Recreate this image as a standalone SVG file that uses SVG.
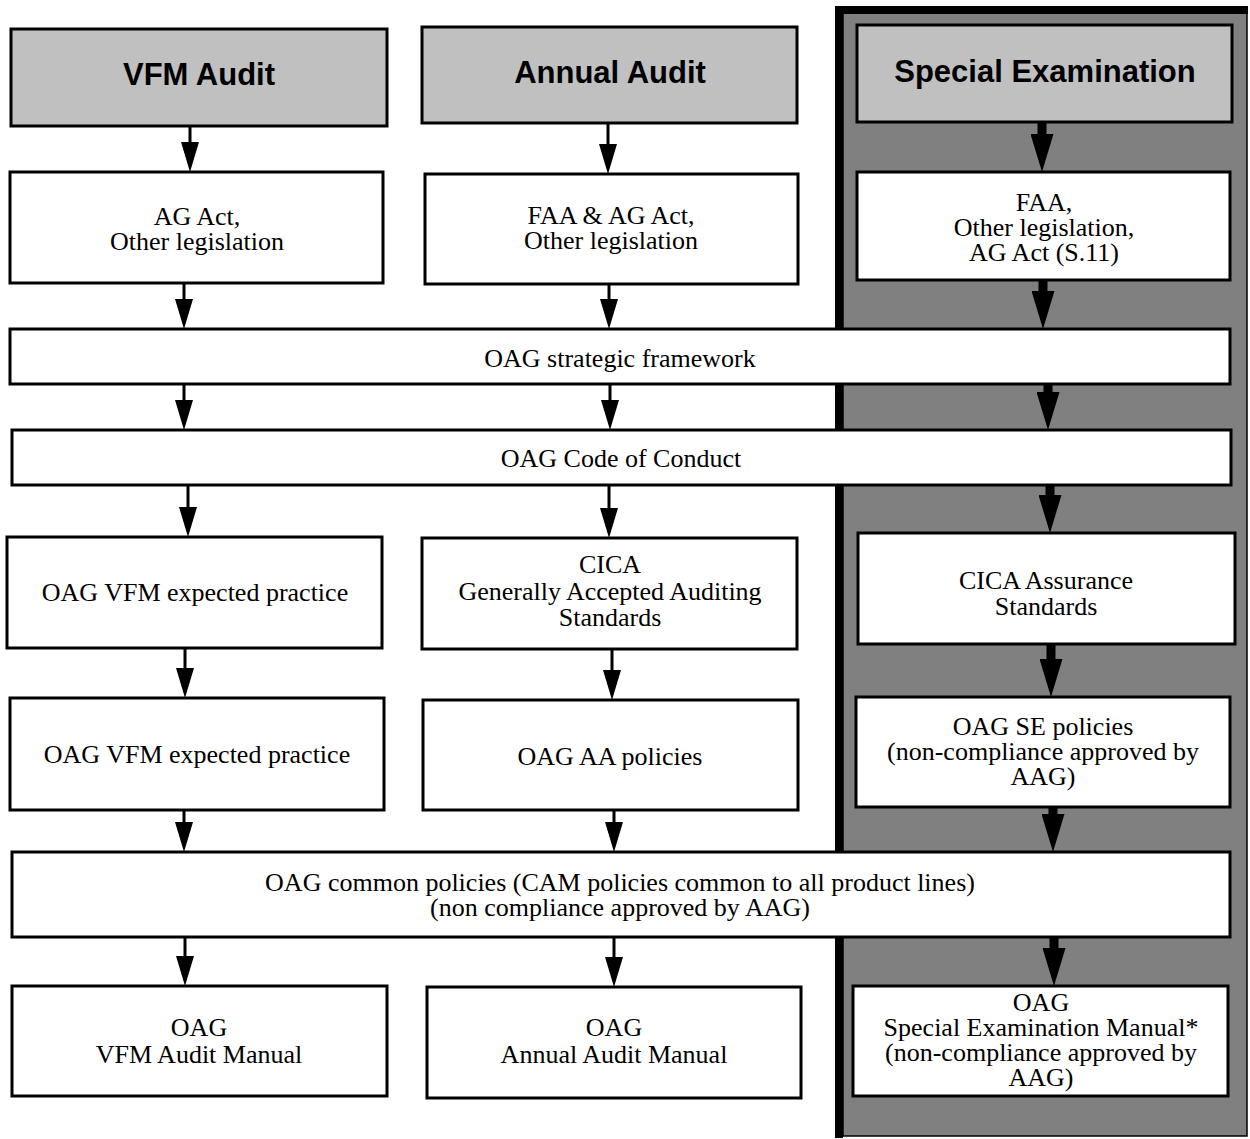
<svg xmlns="http://www.w3.org/2000/svg" width="1250" height="1139" viewBox="0 0 1250 1139">
<defs>
<style>
.box{fill:#fff;stroke:#000;stroke-width:3}
.hdr{fill:#c0c0c0;stroke:#000;stroke-width:3}
.t{font-family:"Liberation Serif","Times New Roman",serif;font-size:26px;fill:#000;text-anchor:middle}
.h{font-family:"Liberation Sans",Arial,sans-serif;font-size:31px;font-weight:bold;fill:#000;text-anchor:middle}
.thin{stroke:#000;stroke-width:3;fill:none;marker-end:url(#ah)}
.thick{stroke:#000;stroke-width:9;fill:none;marker-end:url(#ahb)}
</style>
<marker id="ah" viewBox="0 0 30 18" refX="2" refY="9" markerWidth="30" markerHeight="18" markerUnits="userSpaceOnUse" orient="auto">
<path d="M0,0 L30,9 L0,18 z" fill="#000"/>
</marker>
<marker id="ahb" viewBox="0 0 38 23" refX="2" refY="11.5" markerWidth="38" markerHeight="23" markerUnits="userSpaceOnUse" orient="auto">
<path d="M0,0 L38,11.5 L0,23 z" fill="#000"/>
</marker>
</defs>
<rect width="1250" height="1139" fill="#fff"/>
<g id="panel">
<rect x="843" y="13" width="404" height="1123" fill="#808080" stroke="#000" stroke-width="1.5"/>
<rect x="835" y="6" width="8" height="1132" fill="#000"/>
<rect x="835" y="6" width="413" height="8" fill="#000"/>
</g>
<g id="connectors">
<line class="thin" x1="190" y1="126" x2="190" y2="144"/>
<line class="thin" x1="184" y1="283" x2="184" y2="301"/>
<line class="thin" x1="184" y1="384" x2="184" y2="402"/>
<line class="thin" x1="188" y1="485" x2="188" y2="509"/>
<line class="thin" x1="185" y1="648" x2="185" y2="670"/>
<line class="thin" x1="184" y1="810" x2="184" y2="824"/>
<line class="thin" x1="185" y1="937" x2="185" y2="958"/>
<line class="thin" x1="608" y1="123" x2="608" y2="146"/>
<line class="thin" x1="609" y1="284" x2="609" y2="301"/>
<line class="thin" x1="610" y1="384" x2="610" y2="402"/>
<line class="thin" x1="609" y1="485" x2="609" y2="510"/>
<line class="thin" x1="612" y1="649" x2="612" y2="672"/>
<line class="thin" x1="614" y1="810" x2="614" y2="824"/>
<line class="thin" x1="614" y1="937" x2="614" y2="959"/>
<line class="thick" x1="1042" y1="122" x2="1042" y2="136"/>
<line class="thick" x1="1043" y1="280" x2="1043" y2="293"/>
<line class="thick" x1="1048" y1="384" x2="1048" y2="394"/>
<line class="thick" x1="1050" y1="485" x2="1050" y2="497"/>
<line class="thick" x1="1051" y1="644" x2="1051" y2="661"/>
<line class="thick" x1="1053" y1="807" x2="1053" y2="816"/>
<line class="thick" x1="1054" y1="937" x2="1054" y2="950"/>
</g>
<g id="vfm-header"><rect class="hdr" x="11" y="29" width="376" height="97"/><text class="h" x="199" y="85">VFM Audit</text></g>
<g id="annual-header"><rect class="hdr" x="422" y="27" width="375" height="96"/><text class="h" x="610" y="83">Annual Audit</text></g>
<g id="special-header"><rect class="hdr" x="857" y="25" width="375" height="97"/><text class="h" x="1045" y="82">Special Examination</text></g>
<g id="vfm-legislation"><rect class="box" x="10" y="172" width="373" height="111"/><text class="t" x="197" y="225">AG Act,</text><text class="t" x="197" y="250">Other legislation</text></g>
<g id="annual-legislation"><rect class="box" x="425" y="174" width="373" height="110"/><text class="t" x="611" y="224">FAA &amp; AG Act,</text><text class="t" x="611" y="249">Other legislation</text></g>
<g id="special-legislation"><rect class="box" x="857" y="172" width="373" height="108"/><text class="t" x="1044" y="211">FAA,</text><text class="t" x="1044" y="236">Other legislation,</text><text class="t" x="1044" y="261">AG Act (S.11)</text></g>
<g id="strategic-framework"><rect class="box" x="10" y="329" width="1220" height="55"/><text class="t" x="620" y="367">OAG strategic framework</text></g>
<g id="code-of-conduct"><rect class="box" x="12" y="430" width="1219" height="55"/><text class="t" x="621" y="467">OAG Code of Conduct</text></g>
<g id="vfm-practice-1"><rect class="box" x="7" y="537" width="375" height="111"/><text class="t" x="195" y="601">OAG VFM expected practice</text></g>
<g id="cica-gaas"><rect class="box" x="422" y="538" width="375" height="111"/><text class="t" x="610" y="573">CICA</text><text class="t" x="610" y="600">Generally Accepted Auditing</text><text class="t" x="610" y="626">Standards</text></g>
<g id="cica-assurance"><rect class="box" x="858" y="533" width="377" height="111"/><text class="t" x="1046" y="589">CICA Assurance</text><text class="t" x="1046" y="615">Standards</text></g>
<g id="vfm-practice-2"><rect class="box" x="10" y="698" width="374" height="112"/><text class="t" x="197" y="763">OAG VFM expected practice</text></g>
<g id="aa-policies"><rect class="box" x="423" y="700" width="375" height="110"/><text class="t" x="610" y="765">OAG AA policies</text></g>
<g id="se-policies"><rect class="box" x="856" y="697" width="374" height="110"/><text class="t" x="1043" y="735">OAG SE policies</text><text class="t" x="1043" y="760">(non-compliance approved by</text><text class="t" x="1043" y="785">AAG)</text></g>
<g id="common-policies"><rect class="box" x="12" y="852" width="1218" height="85"/><text class="t" x="620" y="891">OAG common policies (CAM policies common to all product lines)</text><text class="t" x="620" y="916">(non compliance approved by AAG)</text></g>
<g id="vfm-manual"><rect class="box" x="12" y="986" width="375" height="110"/><text class="t" x="199" y="1036">OAG</text><text class="t" x="199" y="1063">VFM Audit Manual</text></g>
<g id="annual-manual"><rect class="box" x="427" y="987" width="374" height="111"/><text class="t" x="614" y="1036">OAG</text><text class="t" x="614" y="1063">Annual Audit Manual</text></g>
<g id="special-manual"><rect class="box" x="853" y="986" width="375" height="110"/><text class="t" x="1041" y="1011">OAG</text><text class="t" x="1041" y="1036">Special Examination Manual*</text><text class="t" x="1041" y="1061">(non-compliance approved by</text><text class="t" x="1041" y="1086">AAG)</text></g>
</svg>
